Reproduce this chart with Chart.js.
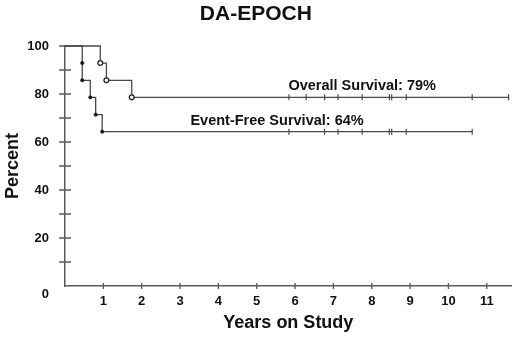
<!DOCTYPE html>
<html>
<head>
<meta charset="utf-8">
<script src="https://cdn.jsdelivr.net/npm/chart.js@4/dist/chart.umd.min.js"></script>
<style>
  html, body { margin: 0; padding: 0; background: #ffffff; }
  #wrap { width: 520px; height: 337px; }
</style>
</head>
<body>
<div id="wrap"><canvas id="c" width="520" height="337"></canvas></div>
<script>
// ---- data ----
const chartTitle = 'DA-EPOCH';
const xTitle = 'Years on Study';
const yTitle = 'Percent';
const xTickValues = [1, 2, 3, 4, 5, 6, 7, 8, 9, 10, 11];

// Overall survival: event times (years) and survival (%) after each event
const osEventTimes = [0.92, 1.08, 1.74];
const osEventSurv  = [92.9, 85.7, 78.6];
const osCensorTimes = [5.84, 6.29, 6.77, 7.12, 7.75, 8.46, 8.52, 8.90, 10.62, 11.57];
const osLabel = 'Overall Survival: 79%';

// Event-free survival
const efsEventTimes = [0.45, 0.45, 0.66, 0.80, 0.97];
const efsEventSurv  = [92.9, 85.7, 78.6, 71.4, 64.3];
const efsCensorTimes = [5.84, 6.77, 7.12, 7.75, 8.46, 8.52, 8.90, 10.62];
const efsLabel = 'Event-Free Survival: 64%';

// ---- helpers ----
function kmSteps(times, surv, censors) {
  const pts = [{ x: 0, y: 100 }];
  times.forEach((t, i) => pts.push({ x: t, y: surv[i] }));
  const endT = censors[censors.length - 1];
  pts.push({ x: endT, y: surv[surv.length - 1] });
  return pts;
}
function survAt(times, surv, t) {
  let s = 100;
  times.forEach((et, i) => { if (et <= t) s = surv[i]; });
  return s;
}
function censorPts(times, surv, censors) {
  return censors.map(t => ({ x: t, y: survAt(times, surv, t) }));
}

const FONT = "'Liberation Sans', Arial, Helvetica, sans-serif";
const LINE = '#4a4a4a';
const AXIS = '#5a5a5a';

const osSteps = kmSteps(osEventTimes, osEventSurv, osCensorTimes);
const efsSteps = kmSteps(efsEventTimes, efsEventSurv, efsCensorTimes);

function eventRadius(r, n) {
  return (ctx) => (ctx.dataIndex >= 1 && ctx.dataIndex <= n) ? r : 0;
}

// crossing tick marks + curve labels
const decorPlugin = {
  id: 'decor',
  afterDraw(chart) {
    const ctx = chart.ctx;
    const xs = chart.scales.x, ys = chart.scales.y;
    ctx.save();
    ctx.strokeStyle = AXIS;
    ctx.lineWidth = 1.3;
    ctx.beginPath();
    xTickValues.forEach(v => {
      const px = xs.getPixelForValue(v);
      ctx.moveTo(px, ys.bottom - 3); ctx.lineTo(px, ys.bottom + 3);
    });
    ys.ticks.forEach(t => {
      if (t.value <= 0) return;
      const py = ys.getPixelForValue(t.value);
      ctx.moveTo(xs.left - 6, py); ctx.lineTo(xs.left + (t.value === 100 ? 0 : 6), py);
    });
    ctx.stroke();

    ctx.fillStyle = '#111';
    ctx.font = "bold 14.5px " + FONT;
    ctx.textAlign = 'center';
    ctx.textBaseline = 'middle';
    const labels = chart.options.plugins.decor.labels;
    labels.forEach(l => {
      ctx.fillText(l.text, xs.getPixelForValue(l.x), ys.getPixelForValue(l.y));
    });
    ctx.restore();
  }
};

new Chart(document.getElementById('c'), {
  type: 'line',
  data: {
    datasets: [
      {
        label: 'OS',
        data: osSteps,
        stepped: 'before',
        borderColor: LINE,
        borderWidth: 1.3,
        fill: false,
        clip: 6,
        pointRadius: eventRadius(2.4, osEventTimes.length),
        pointBackgroundColor: '#ffffff',
        pointBorderColor: '#222',
        pointBorderWidth: 1.3
      },
      {
        label: 'EFS',
        data: efsSteps,
        stepped: 'before',
        borderColor: LINE,
        borderWidth: 1.3,
        fill: false,
        clip: 6,
        pointRadius: eventRadius(1.7, efsEventTimes.length),
        pointBackgroundColor: '#111',
        pointBorderColor: '#111',
        pointBorderWidth: 0.5
      },
      {
        type: 'scatter',
        label: 'OS censored',
        data: censorPts(osEventTimes, osEventSurv, osCensorTimes),
        pointStyle: 'line',
        rotation: 90,
        pointRadius: 3,
        borderColor: LINE,
        borderWidth: 1.2,
        clip: 6
      },
      {
        type: 'scatter',
        label: 'EFS censored',
        data: censorPts(efsEventTimes, efsEventSurv, efsCensorTimes),
        pointStyle: 'line',
        rotation: 90,
        pointRadius: 3,
        borderColor: LINE,
        borderWidth: 1.2,
        clip: 6
      }
    ]
  },
  options: {
    responsive: false,
    animation: false,
    events: [],
    layout: { padding: { left: 0, right: 8.3, top: 0, bottom: 0 } },
    plugins: {
      legend: { display: false },
      tooltip: { enabled: false },
      title: {
        display: true,
        text: chartTitle,
        color: '#111',
        font: { family: FONT, size: 21, weight: 'bold', lineHeight: 1.2 },
        padding: { top: 1.4, bottom: 19.4 }
      },
      decor: {
        labels: [
          { text: osLabel, x: 7.75, y: 83.3 },
          { text: efsLabel, x: 5.53, y: 68.8 }
        ]
      }
    },
    scales: {
      x: {
        type: 'linear',
        min: 0,
        max: 11.65,
        afterBuildTicks: (s) => { s.ticks = xTickValues.map(v => ({ value: v })); },
        afterFit: (s) => { s.height = 51; },
        grid: { display: false, drawTicks: false },
        border: { display: true, color: AXIS, width: 1.5 },
        ticks: {
          color: '#111',
          padding: 8,
          maxRotation: 0,
          autoSkip: false,
          font: { family: FONT, size: 13, weight: 'bold' },
          callback: (v) => String(v)
        },
        title: {
          display: true,
          text: xTitle,
          color: '#111',
          font: { family: FONT, size: 18, weight: 'bold', lineHeight: 1.2 },
          padding: { top: 0, bottom: 3.2 }
        }
      },
      y: {
        type: 'linear',
        min: 0,
        max: 100,
        afterFit: (s) => { s.width = 65; },
        grid: { display: false, drawTicks: false },
        border: { display: true, color: AXIS, width: 1.5 },
        ticks: {
          stepSize: 10,
          color: '#111',
          padding: 16,
          autoSkip: false,
          font: { family: FONT, size: 13, weight: 'bold', lineHeight: 1.35 },
          callback: (v) => v === 0 ? ['', '0'] : (v % 20 === 0 ? String(v) : '')
        },
        title: {
          display: true,
          text: yTitle,
          color: '#111',
          font: { family: FONT, size: 18, weight: 'bold', lineHeight: 1.2 },
          padding: { top: 2.5, bottom: 0 }
        }
      }
    }
  },
  plugins: [decorPlugin]
});
</script>
</body>
</html>
